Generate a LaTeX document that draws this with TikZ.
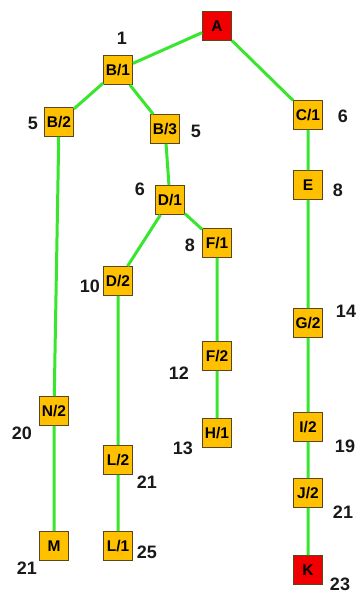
\documentclass[tikz,border=0pt]{standalone}
\usepackage{fontspec}
\setmainfont{Liberation Sans}
\usepackage{tikz}
\usetikzlibrary{positioning}
\definecolor{treegreen}{RGB}{55,230,45}
\definecolor{boxyellow}{RGB}{255,192,0}
\definecolor{boxred}{RGB}{240,0,0}
\definecolor{boxrim}{RGB}{90,70,30}
\tikzset{
  tbox/.style={rectangle, draw=boxrim, fill=boxyellow, line width=0.8pt,
               minimum size=29pt, inner sep=0pt, font=\fontsize{15.5}{15.5}\selectfont\bfseries},
  tgoal/.style={tbox, fill=boxred},
  tline/.style={line width=3pt, treegreen},
  cost/.style={inner sep=0pt, font=\fontsize{18}{18}\selectfont\bfseries, text=black!90},
}
\begin{document}
\begin{tikzpicture}[x=1pt,y=-1pt]
  \useasboundingbox (0,0) rectangle (360,594);

  % ---- the boxes ------------------------------------------------------------
  \node[tgoal] (A)  at (217,26)  {A};
  \node[tbox]  (B1) at (118,70)  {B/1};
  \node[tbox]  (B2) at (59,122)  {B/2};
  \node[tbox]  (B3) at (165,129) {B/3};
  \node[tbox]  (C1) at (308,115) {C/1};
  \node[tbox]  (E)  at (308,185) {E};
  \node[tbox]  (D1) at (170,200) {D/1};
  \node[tbox]  (F1) at (217,243) {F/1};
  \node[tbox]  (D2) at (118,281) {D/2};
  \node[tbox]  (G2) at (308,323) {G/2};
  \node[tbox]  (F2) at (217,356) {F/2};
  \node[tbox]  (N2) at (54,411)  {N/2};
  \node[tbox]  (H1) at (217,433) {H/1};
  \node[tbox]  (I2) at (308,427) {I/2};
  \node[tbox]  (L2) at (118,460) {L/2};
  \node[tbox]  (J2) at (308,493) {J/2};
  \node[tbox]  (M)  at (54,546)  {M};
  \node[tbox]  (L1) at (118,546) {L/1};
  \node[tgoal] (K)  at (308,570) {K};

  % ---- the branches ---------------------------------------------------------
  \draw[tline] (A)--(B1) (A)--(C1)
               (B1)--(B2) (B1)--(B3)
               (B2)--(N2) (N2)--(M)
               (B3)--(D1) (D1)--(D2) (D1)--(F1)
               (D2)--(L2) (L2)--(L1)
               (F1)--(F2) (F2)--(H1)
               (C1)--(E) (E)--(G2) (G2)--(I2) (I2)--(J2) (J2)--(K);

  % ---- the costs --------------------------------------------------------------
  \node[cost] (cB1) at (122,38)  {1};
  \node[cost] (cB2) at (33,123)  {5};
  \node[cost] (cB3) at (196,131) {5};
  \node[cost] (cC1) at (343,116) {6};
  \node[cost] (cE)  at (338,190) {8};
  \node[cost] (cD1) at (140,189) {6};
  \node[cost] (cF1) at (190,245) {8};
  \node[cost] (cD2) at (90,286)  {10};
  \node[cost] (cG2) at (346,311) {14};
  \node[cost] (cF2) at (179,373) {12};
  \node[cost] (cN2) at (22,433)  {20};
  \node[cost] (cH1) at (183,448) {13};
  \node[cost] (cI2) at (345,446) {19};
  \node[cost] (cL2) at (147,482) {21};
  \node[cost] (cJ2) at (343,512) {21};
  \node[cost] (cM)  at (27,568)  {21};
  \node[cost] (cL1) at (147,552) {25};
  \node[cost] (cK)  at (340,584) {23};
\end{tikzpicture}
\end{document}
